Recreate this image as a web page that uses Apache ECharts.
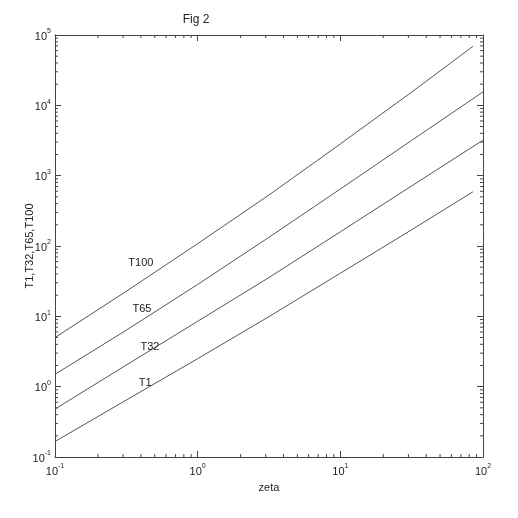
<!DOCTYPE html>
<html>
<head>
<meta charset="utf-8">
<script src="https://cdn.jsdelivr.net/npm/echarts@6/dist/echarts.min.js"></script>
<style>html,body{margin:0;padding:0;background:#fff;}#c{width:518px;height:518px;}</style>
</head>
<body>
<div id="c"></div>
<script>
// Data (log-log)
const zeta = [0.1, 0.316, 1, 3.16, 10, 31.6, 85, 100];
const T1   = [0.166, 0.645, 2.5, 9.9, 41, 170, 590, null];
const T32  = [0.48, 2.03, 8.5, 35.6, 159, 714, 2590, 3190];
const T65  = [1.5, 6.35, 28.4, 133, 646, 3170, 12400, 15500];
const T100 = [5.0, 22.7, 108, 531, 2825, 15400, 69000, null];
const seriesNames = ['T1', 'T32', 'T65', 'T100'];
const seriesValues = [T1, T32, T65, T100];
// label anchor positions (data coords)
const labelX = [0.428, 0.463, 0.407, 0.4];
const labelY = [1.13, 3.66, 12.6, 57];
const xRange = [0.1, 100];
const yRange = [0.1, 100000];

const FONT = 'Liberation Sans, Arial, sans-serif';
const AX = '#444';

function pow10Label(v) {
  const e = Math.round(Math.log10(v));
  return '{b|10}{s|' + e + '}';
}
const rich = {
  b: {fontSize: 11, fontFamily: FONT, color: '#222', lineHeight: 14, verticalAlign: 'bottom'},
  s: {fontSize: 7, fontFamily: FONT, color: '#222', lineHeight: 14, verticalAlign: 'top'}
};

function minorVals(lo, hi) {
  const out = [];
  for (let d = lo; d < hi; d++) {
    for (let k = 2; k <= 9; k++) out.push(k * Math.pow(10, d));
  }
  return out;
}
const xMinor = minorVals(-1, 2);
const yMinor = minorVals(-1, 5);

const lineSeries = seriesNames.map((n, i) => ({
  name: n,
  type: 'line',
  data: zeta.map((x, j) => [x, seriesValues[i][j]]).filter(p => p[1] != null),
  showSymbol: false,
  symbol: 'none',
  smooth: false,
  lineStyle: {color: '#555', width: 1},
  silent: true,
  markPoint: {
    symbol: 'circle',
    symbolSize: 0,
    data: [{coord: [labelX[i], labelY[i]]}],
    label: {show: true, position: 'inside', formatter: n, fontSize: 11, fontFamily: FONT, color: '#222'}
  }
}));

const minorX = {
  type: 'custom',
  data: xMinor.map(v => [v, 1]),
  silent: true,
  clip: false,
  renderItem: function (params, api) {
    const v = api.value(0);
    const b = api.coord([v, yRange[0]]);
    const t = api.coord([v, yRange[1]]);
    return {type: 'group', children: [
      {type: 'line', shape: {x1: b[0], y1: b[1], x2: b[0], y2: b[1] - 3}, style: {stroke: AX, lineWidth: 1}},
      {type: 'line', shape: {x1: t[0], y1: t[1], x2: t[0], y2: t[1] + 3}, style: {stroke: AX, lineWidth: 1}}
    ]};
  }
};
const minorY = {
  type: 'custom',
  data: yMinor.map(v => [1, v]),
  silent: true,
  clip: false,
  renderItem: function (params, api) {
    const v = api.value(1);
    const l = api.coord([xRange[0], v]);
    const r = api.coord([xRange[1], v]);
    return {type: 'group', children: [
      {type: 'line', shape: {x1: l[0], y1: l[1], x2: l[0] + 3, y2: l[1]}, style: {stroke: AX, lineWidth: 1}},
      {type: 'line', shape: {x1: r[0], y1: r[1], x2: r[0] - 3, y2: r[1]}, style: {stroke: AX, lineWidth: 1}}
    ]};
  }
};

const chart = echarts.init(document.getElementById('c'), null, {renderer: 'canvas'});
const baseAxis = {
  type: 'log', logBase: 10,
  axisLine: {show: true, onZero: false, lineStyle: {color: AX, width: 1}},
  axisTick: {show: true, inside: true, length: 6, lineStyle: {color: AX}},
  splitLine: {show: false},
  minorTick: {show: false},
  minorSplitLine: {show: false}
};
chart.setOption({
  animation: false,
  backgroundColor: '#fff',
  title: {
    text: 'Fig 2', left: 191, top: 9, textAlign: 'center',
    textStyle: {fontSize: 12, fontWeight: 'normal', fontFamily: FONT, color: '#222'}
  },
  grid: {left: 55, right: 35, top: 35, bottom: 61, containLabel: false},
  xAxis: [
    Object.assign({}, baseAxis, {
      min: xRange[0], max: xRange[1], position: 'bottom',
      name: 'zeta', nameLocation: 'middle', nameGap: 25,
      nameTextStyle: {fontSize: 11, fontFamily: FONT, color: '#222'},
      axisLabel: {formatter: pow10Label, rich: rich, margin: 6}
    }),
    Object.assign({}, baseAxis, {
      min: xRange[0], max: xRange[1], position: 'top',
      axisLabel: {show: false}
    })
  ],
  yAxis: [
    Object.assign({}, baseAxis, {
      min: yRange[0], max: yRange[1], position: 'left',
      name: 'T1,T32,T65,T100', nameLocation: 'middle', nameGap: 20, nameRotate: 90,
      nameMoveOverlap: false,
      nameTextStyle: {fontSize: 11, fontFamily: FONT, color: '#222'},
      axisLabel: {formatter: pow10Label, rich: rich, margin: 4}
    }),
    Object.assign({}, baseAxis, {
      min: yRange[0], max: yRange[1], position: 'right',
      axisLabel: {show: false}
    })
  ],
  series: lineSeries.concat([minorX, minorY])
});
</script>
</body>
</html>
